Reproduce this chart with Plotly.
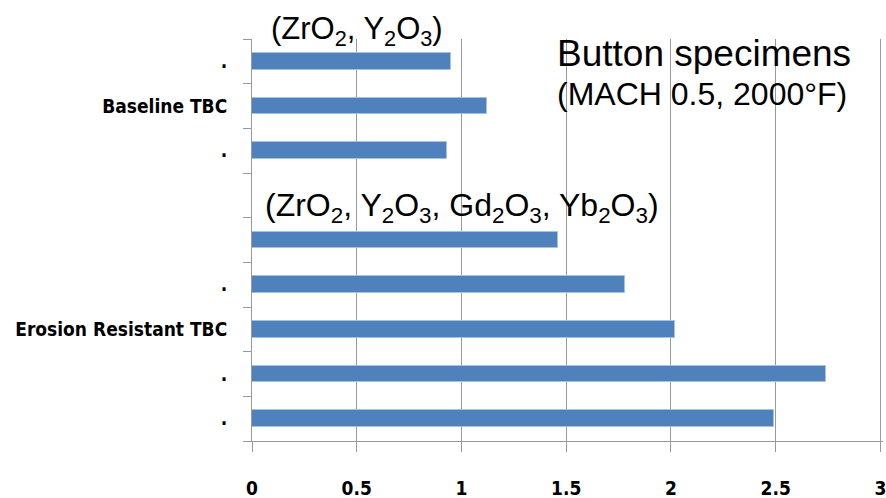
import plotly.graph_objects as go

# Data (top to bottom)
categories = [".", "Baseline TBC", ".", "", "", ".", "Erosion Resistant TBC", ".", "."]
values = [0.95, 1.12, 0.93, None, 1.46, 1.78, 2.02, 2.74, 2.49]
x_ticks = [0, 0.5, 1, 1.5, 2, 2.5, 3]
x_ticktext = ["0", "0.5", "1", "1.5", "2", "2.5", "3"]

positions = list(range(len(categories)))
boundaries = [p - 0.5 for p in positions] + [positions[-1] + 0.5]

BAR = "#4F81BD"
GRID = "#999999"
TICKFONT = dict(family="DejaVu Sans Condensed, DejaVu Sans, sans-serif",
                size=19, color="black", weight="bold")
ANNFONT = "Liberation Sans, Arial, sans-serif"

fig = go.Figure()
fig.add_trace(go.Bar(
    x=values, y=positions, orientation="h", width=0.38,
    marker=dict(color=BAR, line=dict(color="#A9C1E0", width=1)),
    hoverinfo="x",
))

fig.update_layout(
    width=886, height=498,
    margin=dict(l=252, r=3, t=39, b=57),
    plot_bgcolor="white", paper_bgcolor="white",
    showlegend=False,
    bargap=0,
)

fig.update_xaxes(
    range=[0, 3.012], tickvals=x_ticks, ticktext=x_ticktext,
    showgrid=True, gridcolor=GRID, gridwidth=1,
    showline=True, linecolor=GRID, linewidth=1,
    ticks="outside", ticklen=10, tickcolor=GRID,
    zeroline=False, tickfont=TICKFONT, ticklabelstandoff=20,
    ticklabeloverflow="allow",
    automargin=False,
)

fig.update_yaxes(
    range=[8.5, -0.5], tickvals=positions, ticktext=categories,
    showgrid=False, zeroline=False,
    showline=True, linecolor=GRID, linewidth=1,
    ticks="", tickfont=TICKFONT, ticklabelstandoff=20,
    automargin=False,
    minor=dict(tickmode="array", tickvals=boundaries, ticks="outside",
               ticklen=8, tickcolor=GRID, showgrid=False),
)

annotations = [
    dict(text="(ZrO<sub>2</sub>, Y<sub>2</sub>O<sub>3</sub>)", x=0.5, y=1.02,
         size=31),
    dict(text="(ZrO<sub>2</sub>, Y<sub>2</sub>O<sub>3</sub>, Gd<sub>2</sub>O<sub>3</sub>, Yb<sub>2</sub>O<sub>3</sub>)",
         x=1.0, y=0.582, size=32),
    dict(text="Button specimens", x=2.158, y=0.963, size=37),
    dict(text="(MACH 0.5, 2000°F)", x=2.15, y=0.862, size=32),
]
for a in annotations:
    fig.add_annotation(
        text=a["text"], x=a["x"], y=a["y"], xref="x", yref="paper",
        xanchor="center", yanchor="middle", showarrow=False, borderpad=0,
        font=dict(family=ANNFONT, size=a["size"], color="black"),
    )

# remove the page's default body margin / scrollbars so the figure fills the window
fig.write_html(
    "out.html",
    config={"displayModeBar": False},
    post_script="document.body.style.margin='0';"
                "document.body.style.overflow='hidden';"
                "document.documentElement.style.overflow='hidden';",
)
